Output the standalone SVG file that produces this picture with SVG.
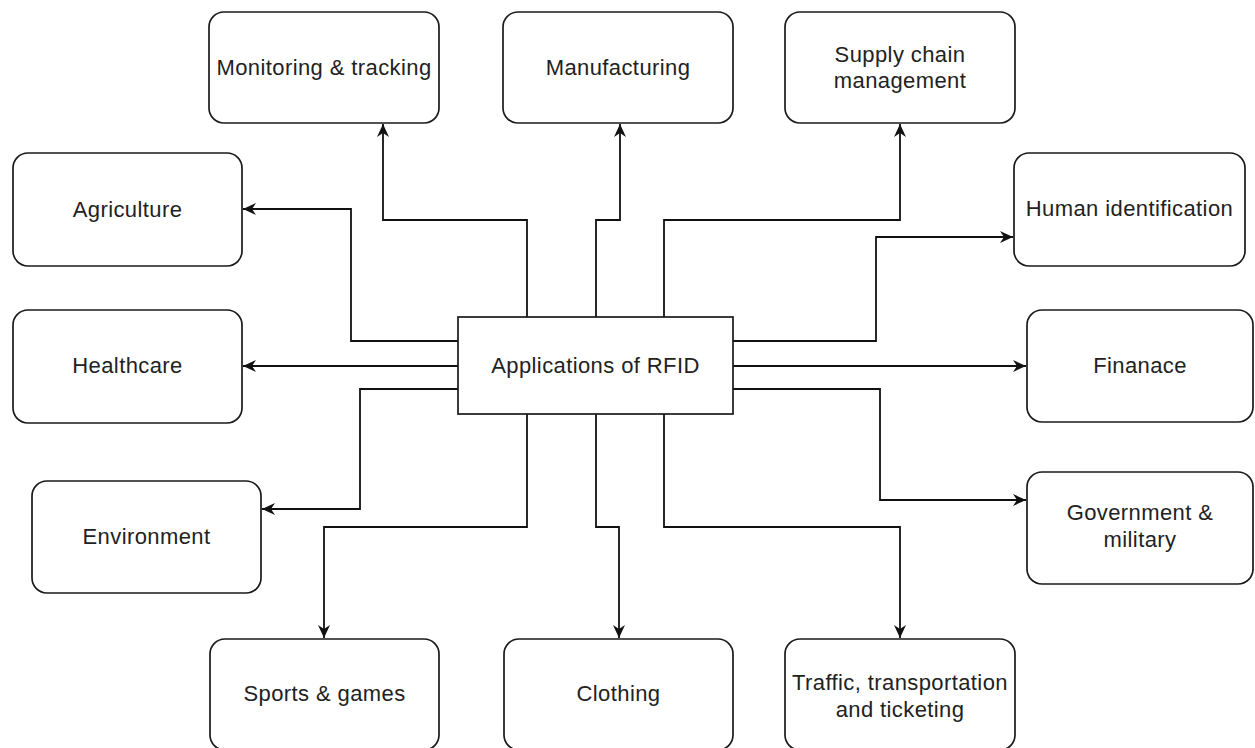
<svg xmlns="http://www.w3.org/2000/svg" width="1255" height="748" viewBox="0 0 1255 748">
<style>
.box{fill:#fff;stroke:#1a1a1a;stroke-width:1.7}
.lbl{font-family:"Liberation Sans",Arial,sans-serif;font-size:22px;fill:#222;text-anchor:middle;letter-spacing:0.4px}
.edge{fill:none;stroke:#111;stroke-width:1.8}
</style>
<defs>
<marker id="arr" markerUnits="userSpaceOnUse" viewBox="0 0 13 12" refX="13" refY="6" markerWidth="13" markerHeight="12" orient="auto">
<path d="M0,0 L13,6 L0,12 L4,6 z" fill="#111"/>
</marker>
</defs>
<rect width="1255" height="748" fill="#fff"/>
<g id="connectors">
<path class="edge" marker-end="url(#arr)" d="M527,317 V220 H383 V124"/>
<path class="edge" marker-end="url(#arr)" d="M596,317 V220 H620 V124"/>
<path class="edge" marker-end="url(#arr)" d="M664,317 V220 H900 V124"/>
<path class="edge" marker-end="url(#arr)" d="M458,341 H351 V209 H243"/>
<path class="edge" marker-end="url(#arr)" d="M458,366 H243"/>
<path class="edge" marker-end="url(#arr)" d="M458,389 H360 V509 H262"/>
<path class="edge" marker-end="url(#arr)" d="M527,414 V527 H324 V638"/>
<path class="edge" marker-end="url(#arr)" d="M596,414 V527 H619 V638"/>
<path class="edge" marker-end="url(#arr)" d="M664,414 V527 H900 V638"/>
<path class="edge" marker-end="url(#arr)" d="M733,341 H876 V237 H1013"/>
<path class="edge" marker-end="url(#arr)" d="M733,366 H1026"/>
<path class="edge" marker-end="url(#arr)" d="M733,389 H880 V500 H1026"/>
</g>
<g id="center">
<rect class="box" x="458" y="317" width="275" height="97"/>
<text class="lbl" x="595.5" y="373">Applications of RFID</text>
</g>
<g id="monitoring">
<rect class="box" x="209" y="12" width="230" height="111" rx="15"/>
<text class="lbl" x="324" y="75">Monitoring &amp; tracking</text>
</g>
<g id="manufacturing">
<rect class="box" x="503" y="12" width="230" height="111" rx="15"/>
<text class="lbl" x="618" y="75">Manufacturing</text>
</g>
<g id="supply">
<rect class="box" x="785" y="12" width="230" height="111" rx="15"/>
<text class="lbl" x="900" y="62">Supply chain</text>
<text class="lbl" x="900" y="88">management</text>
</g>
<g id="agriculture">
<rect class="box" x="13" y="153" width="229" height="113" rx="15"/>
<text class="lbl" x="127.5" y="217">Agriculture</text>
</g>
<g id="healthcare">
<rect class="box" x="13" y="310" width="229" height="113" rx="15"/>
<text class="lbl" x="127.5" y="373">Healthcare</text>
</g>
<g id="environment">
<rect class="box" x="32" y="481" width="229" height="112" rx="15"/>
<text class="lbl" x="146.5" y="544">Environment</text>
</g>
<g id="human">
<rect class="box" x="1014" y="153" width="231" height="113" rx="15"/>
<text class="lbl" x="1129.5" y="216">Human identification</text>
</g>
<g id="finance">
<rect class="box" x="1027" y="310" width="226" height="112" rx="15"/>
<text class="lbl" x="1140" y="373">Finanace</text>
</g>
<g id="government">
<rect class="box" x="1027" y="472" width="226" height="112" rx="15"/>
<text class="lbl" x="1140" y="520">Government &amp;</text>
<text class="lbl" x="1140" y="547">military</text>
</g>
<g id="sports">
<rect class="box" x="210" y="639" width="229" height="111" rx="15"/>
<text class="lbl" x="324.5" y="701">Sports &amp; games</text>
</g>
<g id="clothing">
<rect class="box" x="504" y="639" width="229" height="111" rx="15"/>
<text class="lbl" x="618.5" y="701">Clothing</text>
</g>
<g id="traffic">
<rect class="box" x="785" y="639" width="230" height="111" rx="15"/>
<text class="lbl" x="900" y="690">Traffic, transportation</text>
<text class="lbl" x="900" y="717">and ticketing</text>
</g>
</svg>
